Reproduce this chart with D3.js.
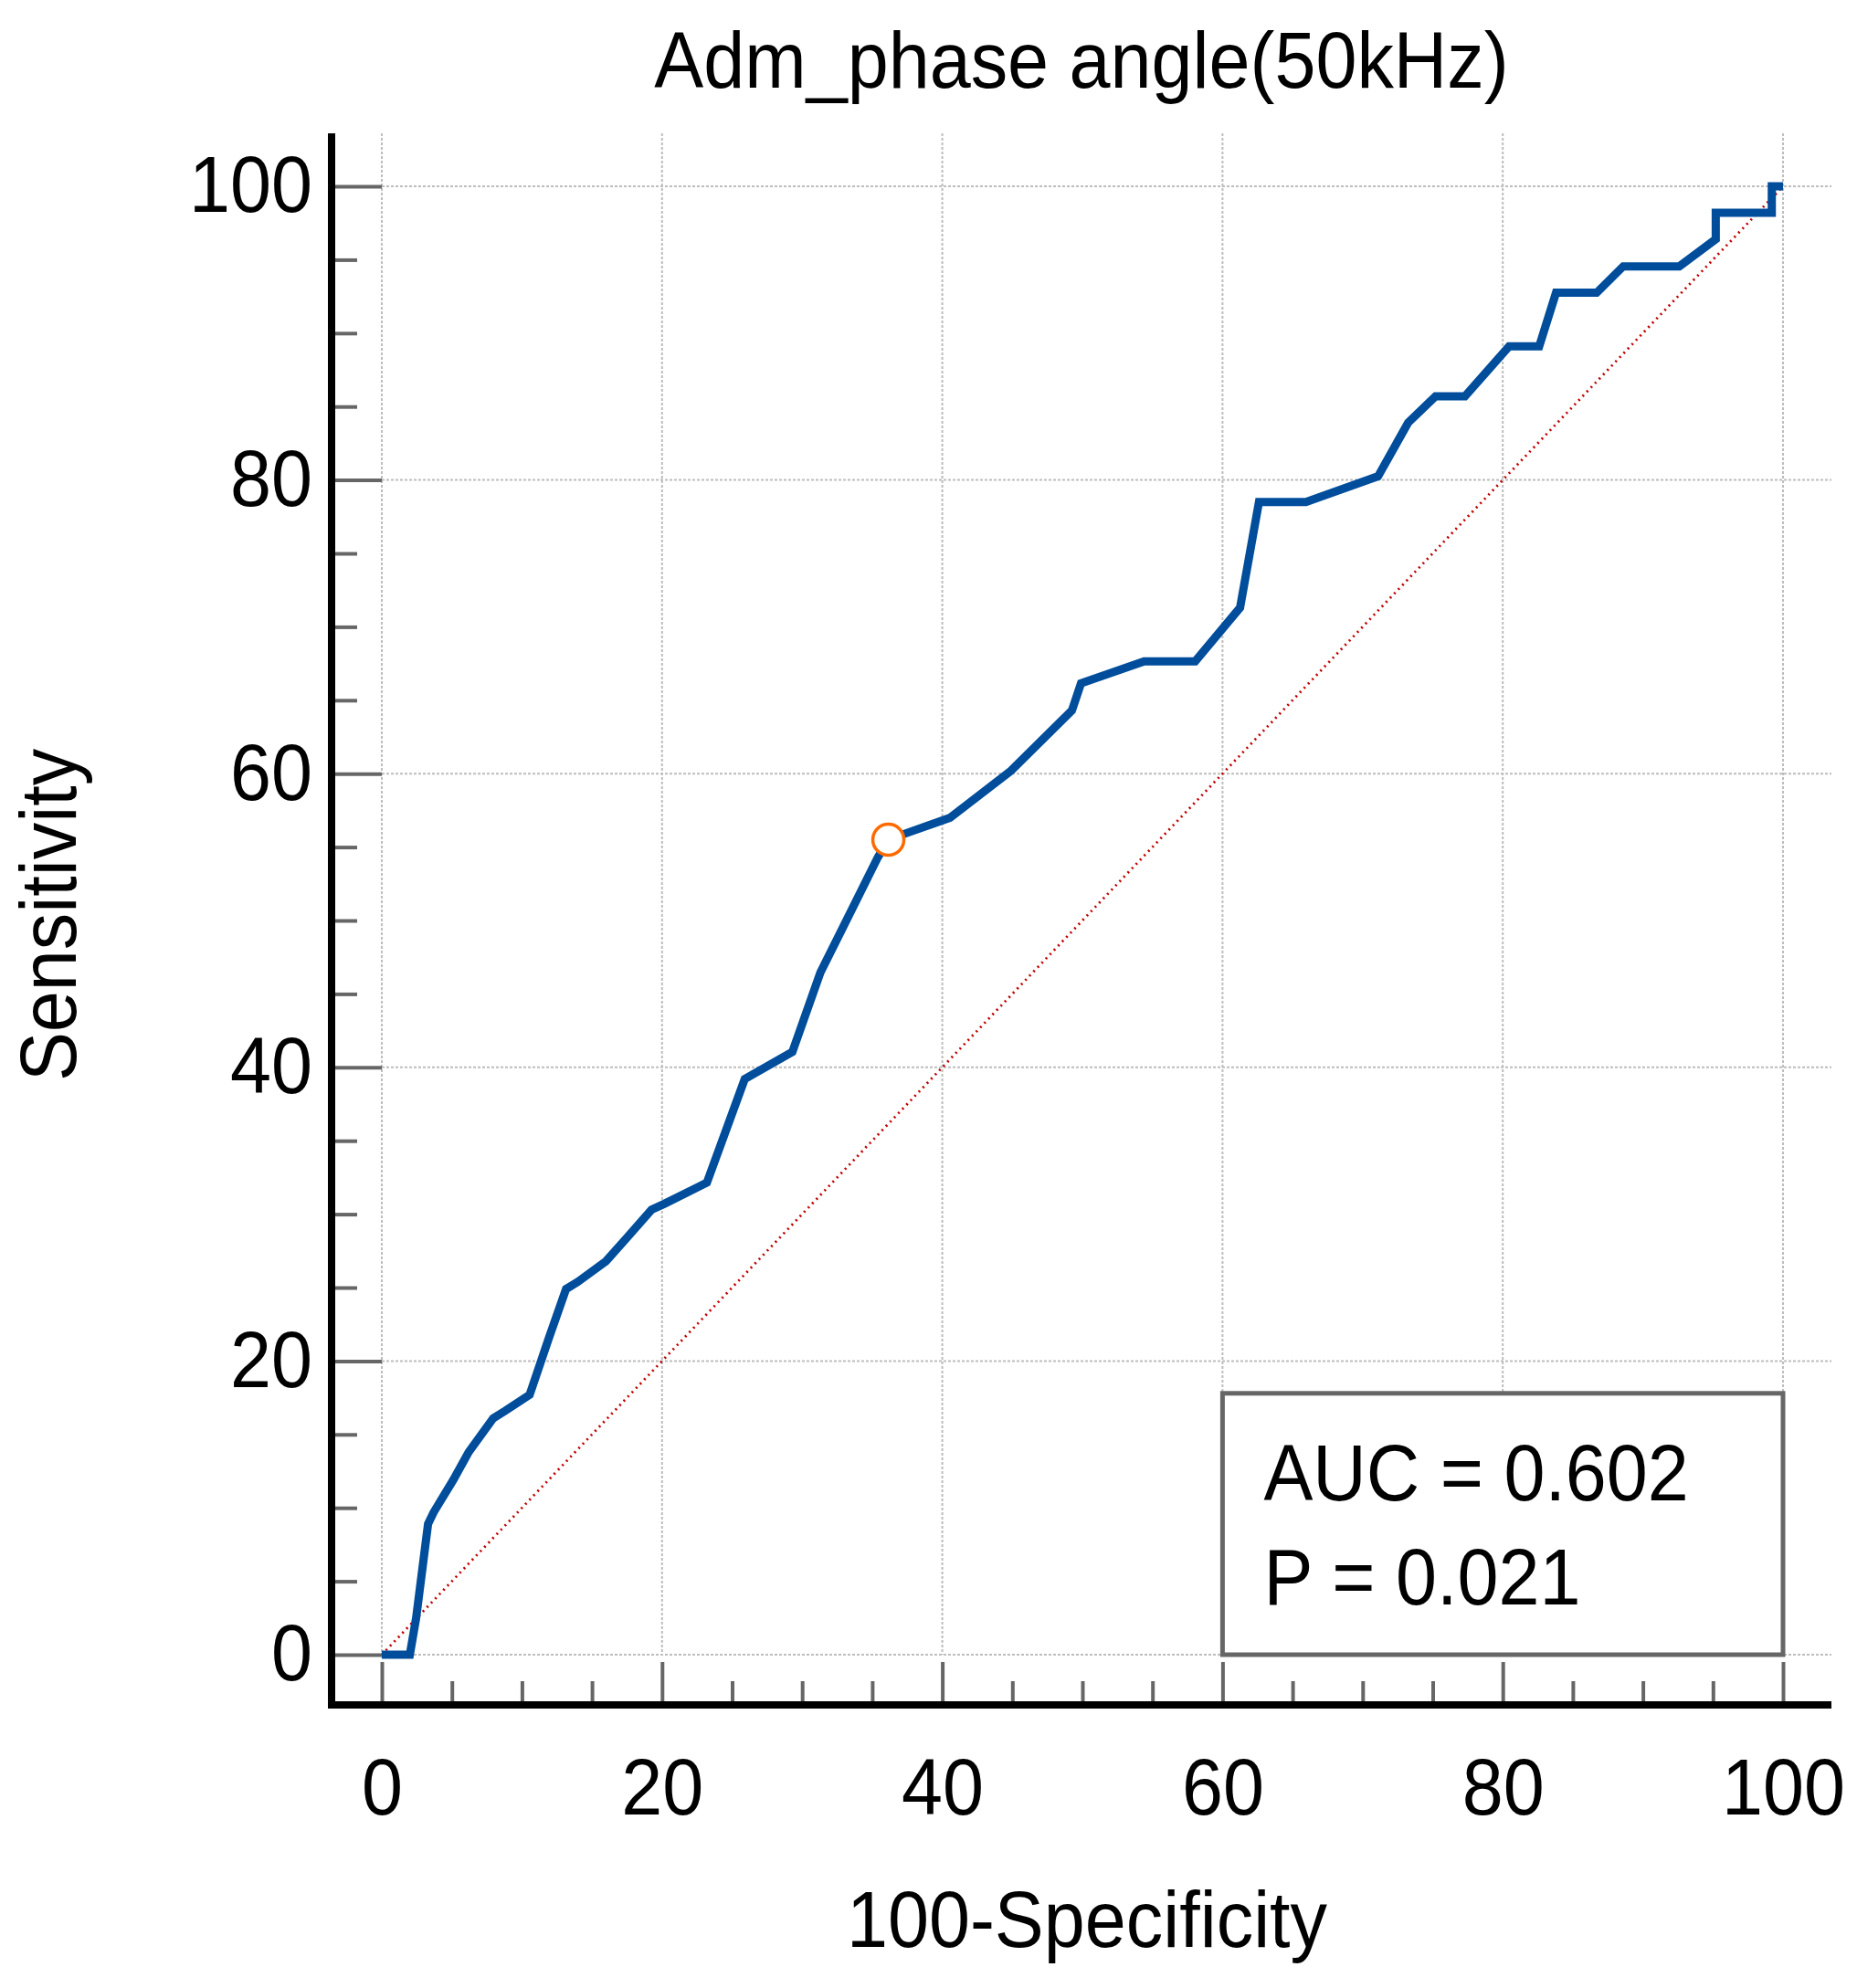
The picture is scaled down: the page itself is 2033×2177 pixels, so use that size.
<!DOCTYPE html>
<html>
<head>
<meta charset="utf-8">
<script src="https://cdn.jsdelivr.net/npm/d3@7/dist/d3.min.js"></script>
<style>
  html, body { margin: 0; padding: 0; background: #fff; }
  svg { display: block; font-family: "Liberation Sans", Arial, Helvetica, sans-serif; }
</style>
</head>
<body>
<svg id="chart" width="2033" height="2177"></svg>
<script>
// ---------- data ----------
const titleText = "Adm_phase angle(50kHz)";
const xLabelText = "100-Specificity";
const yLabelText = "Sensitivity";
const majorTicks = [0, 20, 40, 60, 80, 100];
const minorTicks = [5, 10, 15, 25, 30, 35, 45, 50, 55, 65, 70, 75, 85, 90, 95];
const rocX = [0, 2.0, 2.45, 3.3, 3.7, 5.1, 6.2, 7.95, 8.8, 10.55, 11.9, 13.15, 14.0, 16.0, 17.5, 19.25, 20.15, 23.2, 25.9, 29.3, 31.3, 35.4, 36.15, 37.3, 40.55, 44.9, 49.25, 49.9, 54.4, 58.05, 61.25, 62.6, 65.95, 71.1, 73.25, 75.2, 77.3, 80.45, 82.6, 83.8, 86.7, 88.6, 92.6, 95.2, 95.2, 99.2, 99.2, 100];
const rocY = [0, 0, 2.5, 8.9, 9.7, 11.9, 13.8, 16.1, 16.6, 17.7, 21.5, 24.9, 25.4, 26.8, 28.4, 30.3, 30.7, 32.15, 39.2, 41.05, 46.45, 54.3, 55.5, 55.9, 57.0, 60.2, 64.3, 66.15, 67.65, 67.65, 71.3, 78.5, 78.5, 80.25, 83.9, 85.7, 85.7, 89.1, 89.1, 92.75, 92.75, 94.55, 94.55, 96.4, 98.2, 98.2, 100, 100];
const refX = [0, 100];
const refY = [0, 100];
const cutX = [36.15];
const cutY = [55.5];
const statLines = ["AUC = 0.602", "P = 0.021"];
const boxX = [60, 100];
const boxY = [0, 17.8];

// ---------- layout ----------
const svg = d3.select("#chart");
const FS = 87, SX = 0.93;
const plotTop = 146, plotRight = 2005;
const yAxisX = 363, xAxisY = 1867;

const x = d3.scaleLinear().domain([0, 100]).range([418, 1952]);
const y = d3.scaleLinear().domain([0, 100]).range([1812, 204]);

// grid
const grid = svg.append("g");
grid.selectAll(".vg").data(majorTicks).join("line")
  .attr("x1", d => x(d)).attr("x2", d => x(d))
  .attr("y1", plotTop).attr("y2", y(0))
  .attr("stroke", "#bdbdbd").attr("stroke-width", 2).attr("stroke-dasharray", "3,2");
grid.selectAll(".hg").data(majorTicks).join("line")
  .attr("x1", x(0)).attr("x2", plotRight)
  .attr("y1", d => y(d)).attr("y2", d => y(d))
  .attr("stroke", "#bdbdbd").attr("stroke-width", 2).attr("stroke-dasharray", "3,2");

// AUC box
svg.append("rect")
  .attr("x", x(boxX[0])).attr("y", y(boxY[1]))
  .attr("width", x(boxX[1]) - x(boxX[0])).attr("height", y(boxY[0]) - y(boxY[1]))
  .attr("fill", "#fff").attr("stroke", "#666").attr("stroke-width", 5);
svg.selectAll(".stat").data(statLines).join("text")
  .attr("transform", (d, i) => `translate(${x(boxX[0]) + 45},${[1643, 1757][i]}) scale(${SX},1)`)
  .attr("font-size", FS).attr("fill", "#000").text(d => d);

// reference diagonal
const refData = refX.map((d, i) => [d, refY[i]]);
svg.append("path").datum(refData)
  .attr("d", d3.line().x(d => x(d[0])).y(d => y(d[1])))
  .attr("fill", "none").attr("stroke", "#c00000").attr("stroke-width", 2.8)
  .attr("stroke-dasharray", "2,4.5");

// ROC curve
const rocData = rocX.map((d, i) => [d, rocY[i]]);
svg.append("path").datum(rocData)
  .attr("d", d3.line().x(d => x(d[0])).y(d => y(d[1])))
  .attr("fill", "none").attr("stroke", "#004d9c").attr("stroke-width", 9)
  .attr("stroke-linejoin", "miter").attr("stroke-linecap", "butt");

// criterion point
svg.selectAll(".cut").data(cutX).join("circle")
  .attr("cx", d => x(d)).attr("cy", (d, i) => y(cutY[i])).attr("r", 17)
  .attr("fill", "#fff").attr("stroke", "#ff6a00").attr("stroke-width", 3.5);

// Y axis ticks + labels
const yAxisMajor = d3.axisLeft(y).tickValues(majorTicks).tickSize(-55).tickPadding(21).tickFormat(d3.format("d"));
const gy = svg.append("g").attr("transform", `translate(${yAxisX},0)`).call(yAxisMajor);
gy.select(".domain").remove();
gy.selectAll(".tick line").attr("stroke", "#666").attr("stroke-width", 4);
gy.selectAll(".tick text").attr("font-size", FS).attr("font-family", null).attr("fill", "#000")
  .attr("x", -21 / SX).attr("transform", `scale(${SX},1)`);
const yAxisMinor = d3.axisLeft(y).tickValues(minorTicks).tickSize(-28).tickFormat("");
const gym = svg.append("g").attr("transform", `translate(${yAxisX},0)`).call(yAxisMinor);
gym.select(".domain").remove();
gym.selectAll(".tick line").attr("stroke", "#666").attr("stroke-width", 4);

// X axis ticks + labels
const xAxisMajor = d3.axisBottom(x).tickValues(majorTicks).tickSize(-47).tickPadding(58).tickFormat(d3.format("d"));
const gx = svg.append("g").attr("transform", `translate(0,${xAxisY})`).call(xAxisMajor);
gx.select(".domain").remove();
gx.selectAll(".tick line").attr("stroke", "#666").attr("stroke-width", 4);
gx.selectAll(".tick text").attr("font-size", FS).attr("font-family", null).attr("fill", "#000")
  .attr("transform", `scale(${SX},1)`);
const xAxisMinor = d3.axisBottom(x).tickValues(minorTicks).tickSize(-26).tickFormat("");
const gxm = svg.append("g").attr("transform", `translate(0,${xAxisY})`).call(xAxisMinor);
gxm.select(".domain").remove();
gxm.selectAll(".tick line").attr("stroke", "#666").attr("stroke-width", 4);

// axis lines
svg.append("line").attr("x1", yAxisX).attr("x2", yAxisX).attr("y1", plotTop).attr("y2", xAxisY + 4)
  .attr("stroke", "#000").attr("stroke-width", 8);
svg.append("line").attr("x1", yAxisX - 4).attr("x2", plotRight).attr("y1", xAxisY).attr("y2", xAxisY)
  .attr("stroke", "#000").attr("stroke-width", 8);

// title and axis labels
svg.append("text").attr("transform", `translate(1184,96) scale(${SX},1)`)
  .attr("text-anchor", "middle").attr("font-size", FS).text(titleText);
svg.append("text").attr("transform", `translate(1190,2132) scale(${SX},1)`)
  .attr("text-anchor", "middle").attr("font-size", FS).text(xLabelText);
svg.append("text").attr("transform", `translate(83,1002) rotate(-90) scale(${SX},1)`)
  .attr("text-anchor", "middle").attr("font-size", FS).text(yLabelText);
</script>
</body>
</html>
